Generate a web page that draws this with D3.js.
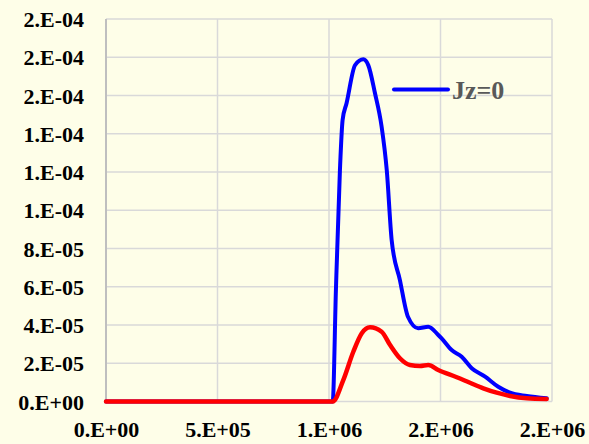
<!DOCTYPE html>
<html><head><meta charset="utf-8">
<script src="https://cdn.jsdelivr.net/npm/d3@7"></script>
<style>html,body{margin:0;padding:0;background:#fefee8;}svg{display:block;}</style>
</head><body>
<svg id="c" width="589" height="444"></svg>
<script>
const xTicks = [0, 5e5, 1e6, 1.5e6, 2e6];
const xTickLabels = ["0.E+00", "5.E+05", "1.E+06", "2.E+06", "2.E+06"];
const yTicks = [0, 2e-5, 4e-5, 6e-5, 8e-5, 1e-4, 1.2e-4, 1.4e-4, 1.6e-4, 1.8e-4, 2e-4];
const yTickLabels = ["0.E+00", "2.E-05", "4.E-05", "6.E-05", "8.E-05", "1.E-04", "1.E-04", "1.E-04", "2.E-04", "2.E-04", "2.E-04"];

const blueName = "Jz=0";
const blueX = [0, 5e5, 1.0166e6, 1.031e6, 1.049e6, 1.061e6, 1.079e6, 1.117e6, 1.154e6, 1.176e6, 1.206e6, 1.236e6, 1.259e6, 1.281e6, 1.318e6, 1.354e6, 1.400e6, 1.445e6, 1.490e6, 1.505e6, 1.550e6, 1.595e6, 1.640e6, 1.700e6, 1.759e6, 1.812e6, 1.887e6, 1.976e6];
const blueY = [0, 0, 0, 5.83e-5, 12.1e-5, 14.72e-5, 15.61e-5, 17.59e-5, 17.89e-5, 17.59e-5, 16.13e-5, 14.37e-5, 12.1e-5, 8.44e-5, 6.35e-5, 4.43e-5, 3.83e-5, 3.91e-5, 3.48e-5, 3.30e-5, 2.69e-5, 2.34e-5, 1.74e-5, 1.30e-5, 0.77e-5, 0.46e-5, 0.29e-5, 0.17e-5];

const redX = [0, 5e5, 1.0166e6, 1.064e6, 1.109e6, 1.147e6, 1.184e6, 1.236e6, 1.274e6, 1.318e6, 1.363e6, 1.408e6, 1.445e6, 1.490e6, 1.573e6, 1.632e6, 1.692e6, 1.752e6, 1.812e6, 1.887e6, 1.976e6];
const redY = [0, 0, 0, 1.12e-5, 2.60e-5, 3.57e-5, 3.88e-5, 3.65e-5, 2.95e-5, 2.26e-5, 1.91e-5, 1.86e-5, 1.91e-5, 1.65e-5, 1.27e-5, 0.98e-5, 0.69e-5, 0.46e-5, 0.29e-5, 0.17e-5, 0.13e-5];

const svg = d3.select("#c");
const L = 106, R = 552, T = 19, B = 401.5;
const x = d3.scaleLinear().domain([0, 2e6]).range([L, R]);
const y = d3.scaleLinear().domain([0, 2e-4]).range([B, T]);

svg.append("rect").attr("width", 589).attr("height", 444).attr("fill", "#fefee8");

const g = svg.append("g");
g.selectAll("line.h").data(yTicks).enter().append("line")
  .attr("x1", L).attr("x2", R).attr("y1", d => y(d)).attr("y2", d => y(d))
  .attr("stroke", "#d9d9d9").attr("stroke-width", 1.5);
g.selectAll("line.v").data(xTicks.slice(1)).enter().append("line")
  .attr("x1", d => x(d)).attr("x2", d => x(d)).attr("y1", T).attr("y2", B)
  .attr("stroke", "#d9d9d9").attr("stroke-width", 1.5);
g.append("line").attr("x1", L).attr("x2", L).attr("y1", T).attr("y2", B)
  .attr("stroke", "#bfbfbf").attr("stroke-width", 2);

const yAxis = d3.axisLeft(y).tickValues(yTicks).tickSize(0).tickPadding(0)
  .tickFormat((d, i) => yTickLabels[i]);
const ya = svg.append("g").attr("transform", `translate(${L - 22},0)`).call(yAxis);
ya.select(".domain").remove();
ya.selectAll("text").attr("font-family", "'Liberation Serif','Times New Roman',serif")
  .attr("font-weight", "bold").attr("font-size", 22).attr("fill", "#000").attr("dy", "0.35em");

const xAxis = d3.axisBottom(x).tickValues(xTicks).tickSize(0).tickPadding(0)
  .tickFormat((d, i) => xTickLabels[i]);
const xa = svg.append("g").attr("transform", `translate(0,${B + 20})`).call(xAxis);
xa.select(".domain").remove();
xa.selectAll("text").attr("font-family", "'Liberation Serif','Times New Roman',serif")
  .attr("font-weight", "bold").attr("font-size", 22).attr("fill", "#000").attr("dy", "0.71em");

const line = d3.line().x(d => x(d[0])).y(d => y(d[1])).curve(d3.curveMonotoneX);
svg.append("path").datum(blueX.map((v, i) => [v, blueY[i]]))
  .attr("d", line).attr("fill", "none").attr("stroke", "#0000ff").attr("stroke-width", 4)
  .attr("stroke-linejoin", "round").attr("stroke-linecap", "round");
svg.append("path").datum(redX.map((v, i) => [v, redY[i]]))
  .attr("d", line).attr("fill", "none").attr("stroke", "#ff0000").attr("stroke-width", 4.5)
  .attr("stroke-linejoin", "round").attr("stroke-linecap", "round");

const lg = svg.append("g");
lg.append("line").attr("x1", 394).attr("x2", 448).attr("y1", 89.5).attr("y2", 89.5)
  .attr("stroke", "#0000ff").attr("stroke-width", 4).attr("stroke-linecap", "round");
lg.append("text").attr("x", 452).attr("y", 89.5).attr("dy", "0.35em")
  .attr("font-family", "'Liberation Serif','Times New Roman',serif")
  .attr("font-weight", "bold").attr("font-size", 26).attr("fill", "#595959").text(blueName);
</script>
</body></html>
